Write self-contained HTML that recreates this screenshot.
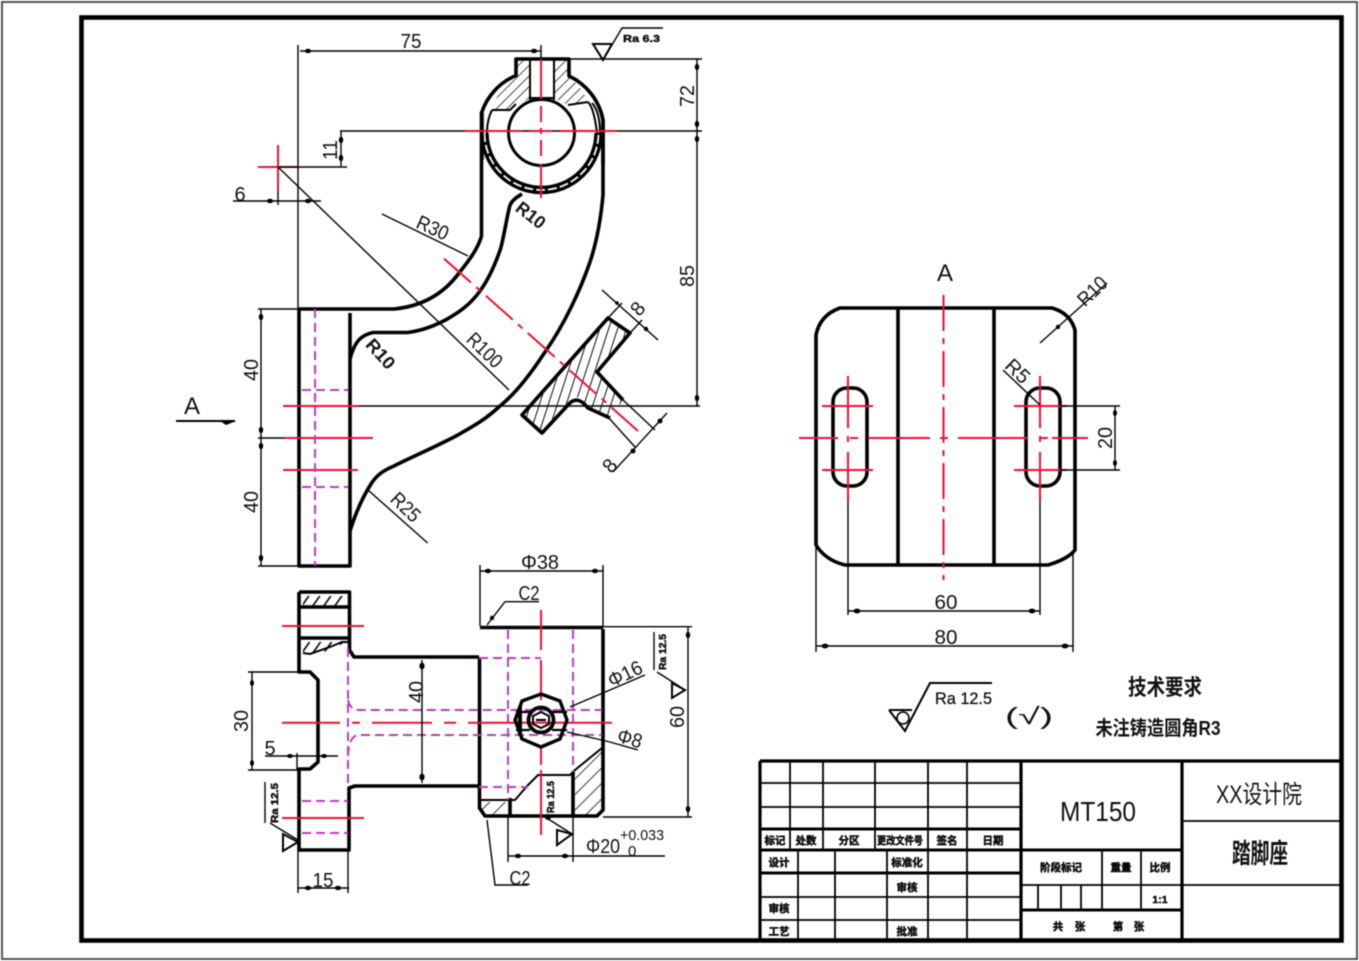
<!DOCTYPE html>
<html><head><meta charset="utf-8"><title>踏脚座</title>
<style>
html,body{margin:0;padding:0;background:#fff}
svg{display:block;filter:blur(.5px)}
text{font-family:"Liberation Sans","Noto Sans CJK SC",sans-serif;fill:#111}
.k{fill:none;stroke:#000;stroke-width:3.6;stroke-linejoin:round}
.t{fill:none;stroke:#000;stroke-width:1.4}
.m{fill:none;stroke:#000;stroke-width:2}
.r{fill:none;stroke:#f01030;stroke-width:2}
.rd{fill:none;stroke:#f01030;stroke-width:2;stroke-dasharray:36 7 6 7}
.p{fill:none;stroke:#b83cc0;stroke-width:2;stroke-dasharray:9 5}
.d{font-size:20px;text-anchor:middle}
.s{font-size:10.5px;font-weight:bold;text-anchor:middle;stroke:#000;stroke-width:.45}
.b{fill:#000;stroke:none}
</style></head><body>
<svg width="1359" height="961" viewBox="0 0 1359 961" xmlns="http://www.w3.org/2000/svg">
<defs>
<pattern id="h" width="7.500" height="7.500" patternUnits="userSpaceOnUse" patternTransform="rotate(-45)"><line x1="0" y1="0" x2="7.500" y2="0" stroke="#000" stroke-width="1.400"/></pattern>
<pattern id="h2" width="8.500" height="8.500" patternUnits="userSpaceOnUse" patternTransform="rotate(-72)"><line x1="0" y1="0" x2="8.500" y2="0" stroke="#000" stroke-width="1.900"/></pattern>
<pattern id="h3" width="9" height="9" patternUnits="userSpaceOnUse" patternTransform="rotate(-55)"><line x1="0" y1="0" x2="9" y2="0" stroke="#000" stroke-width="3.200"/></pattern>
<pattern id="h4" width="11" height="11" patternUnits="userSpaceOnUse" patternTransform="rotate(-45)"><line x1="0" y1="0" x2="11" y2="0" stroke="#000" stroke-width="1.500"/></pattern>
</defs>
<rect width="1359" height="961" fill="#fff"/>
<rect x="2" y="2" width="1355" height="957" fill="none" stroke="#555" stroke-width="2"/>
<rect x="81.500" y="17.500" width="1260" height="923" fill="none" stroke="#000" stroke-width="4.600"/>

<!-- MAIN VIEW -->
<path d="M492 110A61 61 0 0 1 516 76V59H530V98L510 110Z" fill="url(#h)"/>
<path d="M588 102A61 61 0 0 0 568 76V59H554V98L568 105Z" fill="url(#h)"/>
<path d="M608 318L630 333L597 372L623 400L610 418L588 408L577 397L568 405L542 433L522 415Z" fill="url(#h2)"/>
<path class="k" d="M623 400L597 372L630 333L608 318L522 415L542 433L568 405Q577 394 588 408L610 418"/>
<path class="k" d="M299 309H394C425 306 445 292 459 273C471 258 478 248 481.500 236V113A61 61 0 0 1 516 75.500V59H569V76A61 61 0 0 1 603 120V195C601 217 597 241 590 262C580 291 564 325 545 352C530 375 515 394 500 406C485 420 472 427 456 436C435 447 412 457 394 466C382 471 376 476 371 484C362 498 355 515 350 531"/>
<path class="k" d="M299 309V566H350V313M350 566V531M350 359V313"/>
<path class="k" d="M522 194C515 198 510 202 509 209C506 222 504 236 500.600 248.600C495 265 488 280 480 291C470 305 458 313 445.500 320C432 327 420 331 407.600 332.500H373C362 335 355 340 350 359"/>
<!-- ring -->
<path d="M484.500 133A57 57 0 0 0 598.500 133" fill="none" stroke="#000" stroke-width="8.500"/>
<path d="M484.500 133A57 57 0 0 0 598.500 133" fill="none" stroke="#fff" stroke-width="1.800" stroke-dasharray="9 3"/>
<path class="m" d="M492 110H510L516 104M568 105L588 102M487 133Q487 120 492 110M588 102Q594 108 597 133M592 103Q600 112 600 133"/>
<path class="k" d="M482 113V160M603 120V165" stroke-width="5"/>
<path class="m" d="M530 59V100M554 59V100M530 98H554"/>
<circle cx="541.500" cy="132.500" r="33" fill="#fff" stroke="#000" stroke-width="3"/>

<!-- main centre lines -->
<path class="t" d="M340 131H702M568 59H702M299 406H700M298 45V309M541 45V59"/>
<path class="r" d="M465 131H522M530 131H552M560 131H617M538 131H544M541 128V134M541 59V99M541 106V122M541 140V156M541 164V198"/>
<path class="rd" d="M444 258.600L638 431" stroke-dasharray="44 7 6 7"/>
<path class="r" d="M258 167H298M278 145V190"/>
<path class="t" d="M278 167H347M278 167L509 390M233 201H321M278 190V205"/>
<path class="t" d="M341 131V166"/>
<path class="t" d="M382 214L468 256M368 490L427.600 543M300 51H541M697 59V406M258 309H299M258 566H299M258 438H300M261 309V566"/>
<path class="r" d="M283 406H358M285 438H373M283 470H358"/>
<path class="p" d="M315 309V566"/>
<path class="p" d="M302 390H348M302 487H348" stroke-dasharray="10 5"/>
<!-- section dims -->
<path class="t" d="M602 290L658 340M608 318L622 303M630 333L642 320M667 413L613 472M623 400L655 430M608 417L635 447"/>
<!-- arrow blobs -->
<g class="b">
<ellipse cx="308" cy="51" rx="3.200" ry="2.200"/><ellipse cx="534" cy="51" rx="3.200" ry="2.200"/>
<ellipse cx="697" cy="67" rx="2.200" ry="3.200"/><ellipse cx="697" cy="124" rx="2.200" ry="3.200"/>
<ellipse cx="697" cy="139" rx="2.200" ry="3.200"/><ellipse cx="697" cy="398" rx="2.200" ry="3.200"/>
<ellipse cx="341" cy="140" rx="2.200" ry="3.200"/><ellipse cx="341" cy="158" rx="2.200" ry="3.200"/>
<ellipse cx="270" cy="201" rx="3.200" ry="2.200"/><ellipse cx="308" cy="201" rx="3.200" ry="2.200"/>
<ellipse cx="261" cy="317" rx="2.200" ry="3.200"/><ellipse cx="261" cy="430" rx="2.200" ry="3.200"/>
<ellipse cx="261" cy="446" rx="2.200" ry="3.200"/><ellipse cx="261" cy="558" rx="2.200" ry="3.200"/>
<circle cx="660" cy="421" r="2.500"/><circle cx="633" cy="451" r="2.500"/>
<circle cx="617" cy="303" r="1.800"/><circle cx="646" cy="329" r="2.200"/>
</g>
<!-- main labels -->
<text class="d" x="411" y="48" textLength="21" lengthAdjust="spacingAndGlyphs">75</text>
<text class="d" transform="translate(694,96) rotate(-90)" textLength="22" lengthAdjust="spacingAndGlyphs">72</text>
<text class="d" transform="translate(694,276) rotate(-90)" textLength="22" lengthAdjust="spacingAndGlyphs">85</text>
<text class="d" transform="translate(337,150) rotate(-90)" textLength="20" lengthAdjust="spacingAndGlyphs">11</text>
<text class="d" x="240" y="201" font-size="20">6</text>
<text class="d" transform="translate(258,370) rotate(-90)" textLength="22" lengthAdjust="spacingAndGlyphs">40</text>
<text class="d" transform="translate(258,502) rotate(-90)" textLength="22" lengthAdjust="spacingAndGlyphs">40</text>
<text class="d" x="192" y="414" style="font-size:24px">A</text>
<path class="m" d="M176 421H235"/><path class="b" d="M220 421H236L226 425Z"/>
<text class="d" transform="translate(430,234) rotate(24)" textLength="33" lengthAdjust="spacingAndGlyphs">R30</text>
<text class="d" transform="translate(527,220) rotate(38)" style="font-size:18px;font-weight:bold" textLength="32" lengthAdjust="spacingAndGlyphs">R10</text>
<text class="d" transform="translate(376,358) rotate(48)" style="font-size:18px;font-weight:bold" textLength="34" lengthAdjust="spacingAndGlyphs">R10</text>
<text class="d" transform="translate(480,355) rotate(44)" textLength="41" lengthAdjust="spacingAndGlyphs">R100</text>
<text class="d" transform="translate(401,512) rotate(44)" textLength="33" lengthAdjust="spacingAndGlyphs">R25</text>
<text class="d" transform="translate(643,313) rotate(-50)">8</text>
<text class="d" transform="translate(615,470) rotate(-50)">8</text>
<!-- Ra top -->
<path class="m" d="M593 44H612L603 60Z"/>
<path class="t" d="M606 55L622 28H663"/>
<text x="623" y="42" style="font-size:10.500px;font-weight:bold;stroke:#000;stroke-width:.4" textLength="37" lengthAdjust="spacingAndGlyphs">Ra 6.3</text>

<!-- BOTTOM VIEW -->
<rect x="303" y="596" width="43" height="10" fill="url(#h3)"/>
<path d="M303 642H346L328 651L310 654H303Z" fill="url(#h3)"/>
<path class="m" d="M303 653L310 654L330 647L342 642H349"/>
<path class="k" d="M299 592H349.500V650L354 657H479M299 592V672H310L318 680V762L310 769H299V850H349V788L355 786H479M299 607H349M299 638H349" stroke-width="4"/>
<path class="k" d="M479.500 657V808L485 816H597L603 810V629"/>
<path class="k" d="M480 627.500H603" stroke-width="6"/>
<path d="M483 802H507V817H490L482 810Z" fill="url(#h4)"/>
<path d="M575 770L602 748V812L596 817H575Z" fill="url(#h4)"/>
<path class="m" d="M481 800H515L528 785L538 775H570L575 770L602 748"/>
<path class="k" d="M510 798V817M573 772V817" stroke-width="3.400"/>
<path class="p" d="M348 648V787"/>
<path class="p" d="M348 700Q350 710 359 710H602M348 756Q349 735 359 735H602"/>
<path class="p" d="M302 801H348M302 833H348"/>
<path class="p" d="M479 658H541M479 787H528M508 630V800M573 630V772"/>
<path class="r" d="M282 626H364M282 818H364M282 722.700H340M352 722.700H360M372 722.700H432M444 722.700H456M468 722.700H612M541 610V650M541 660V700M541 745V765M541 770V835"/>
<g fill="none" stroke="#000">
<polygon points="541,694 560,701 567,720 560,739 541,747 522,739 515,720 522,701" stroke-width="3.400"/>
<circle cx="541" cy="720" r="12.500" stroke-width="3.800"/>
<polygon points="541,712 549,716 549,724 541,728 533,724 533,716" stroke-width="2"/>
<path d="M516 712H530M516 730H530M552 712H567M552 730H567M536 720H546" stroke-width="2.200"/>
<path d="M520 706V735" stroke-width="4"/>
</g>
<path class="t" d="M480 565V626M603 565V626M480 571H603M505 601.700L487 625M505 601.700H539M487 820L495 885H528"/>
<path class="t" d="M603 626.700H692M603 817H692M688 627V817M422 660V783M248 672H300M248 770H300M252 672V770M265 756H338M297 753V770M298 850V893M348 850V893M298 888H349M508 817V862M573 817V862M508 856H665"/>
<path class="t" d="M570 707L645 675M567 732L610 742L638 750"/>
<path class="t" d="M657 672L685 690M654 632V670"/>
<path class="m" d="M672 683L685 690L672 698Z"/>
<path class="t" d="M270 823L298 840M265 782V823"/>
<path class="m" d="M283 834L298 842L283 851Z"/>
<path class="t" d="M545 817L572 834"/>
<path class="m" d="M557 830L572 834L557 845Z"/>
<g class="b">
<ellipse cx="488" cy="571" rx="3.200" ry="2.200"/><ellipse cx="595" cy="571" rx="3.200" ry="2.200"/>
<ellipse cx="688" cy="635" rx="2.200" ry="3.200"/><ellipse cx="688" cy="809" rx="2.200" ry="3.200"/>
<ellipse cx="422" cy="666" rx="2.600" ry="3.400"/><ellipse cx="422" cy="777" rx="2.600" ry="3.400"/>
<ellipse cx="252" cy="683" rx="2" ry="3"/><ellipse cx="252" cy="763" rx="2" ry="3"/>
<ellipse cx="290" cy="756" rx="3" ry="2"/><ellipse cx="324" cy="756" rx="3" ry="2"/>
<ellipse cx="308" cy="888" rx="3.200" ry="2.200"/><ellipse cx="338" cy="888" rx="3.200" ry="2.200"/>
<ellipse cx="518" cy="856" rx="3.200" ry="2.200"/><ellipse cx="565" cy="856" rx="3.200" ry="2.200"/>
<circle cx="548" cy="817" r="3"/><circle cx="492" cy="618" r="2.200"/>
</g>
<text class="d" x="540" y="569" textLength="38" lengthAdjust="spacingAndGlyphs">Φ38</text>
<text class="d" x="529" y="600" textLength="21" lengthAdjust="spacingAndGlyphs">C2</text>
<text class="d" x="520" y="885" textLength="21" lengthAdjust="spacingAndGlyphs">C2</text>
<text class="d" transform="translate(423,692) rotate(-90)" textLength="22" lengthAdjust="spacingAndGlyphs">40</text>
<text class="d" transform="translate(248,721) rotate(-90)" textLength="22" lengthAdjust="spacingAndGlyphs">30</text>
<text class="d" x="270" y="755">5</text>
<text class="d" x="323" y="887" textLength="21" lengthAdjust="spacingAndGlyphs">15</text>
<text class="d" transform="translate(684,717) rotate(-90)" textLength="22" lengthAdjust="spacingAndGlyphs">60</text>
<text class="d" transform="translate(628,680) rotate(-26)" textLength="36" lengthAdjust="spacingAndGlyphs">Φ16</text>
<text class="d" transform="translate(628,745) rotate(16)" textLength="25" lengthAdjust="spacingAndGlyphs">Φ8</text>
<text class="d" x="603" y="853" textLength="34" lengthAdjust="spacingAndGlyphs">Φ20</text>
<text x="620" y="840" style="font-size:15px" textLength="44" lengthAdjust="spacingAndGlyphs">+0.033</text>
<text x="628" y="856" style="font-size:15px">0</text>
<text class="s" transform="translate(666,652) rotate(-90)" textLength="36" lengthAdjust="spacingAndGlyphs">Ra 12.5</text>
<text class="s" transform="translate(278,803) rotate(-90)" textLength="40" lengthAdjust="spacingAndGlyphs">Ra 12.5</text>
<text class="s" transform="translate(554,797) rotate(-90)" textLength="32" lengthAdjust="spacingAndGlyphs">Ra 12.5</text>

<!-- RIGHT VIEW -->
<path class="k" d="M840 308H1052Q1070 313 1075 330V550Q1068 559 1048 565H845Q825 560 816 545V335Q820 315 840 308Z" stroke-width="3.300"/>
<path class="k" d="M898 308V565M994 308V565" stroke-width="4"/>
<rect x="833" y="388" width="34" height="98" rx="14" ry="14" class="k"/>
<rect x="1026" y="388" width="34" height="98" rx="14" ry="14" class="k"/>
<path class="rd" d="M943.500 295V580" stroke-dasharray="46 8 6 8"/>
<path class="r" d="M799 438H838M850 438H858M868 438H930M940 438H948M958 438H1028M1040 438H1048M1052 438H1088"/>
<path class="r" d="M822 406H873M822 470H873M1014 406H1067M1014 470H1067"/>
<path class="r" d="M848 376V428M848 436V442M848 452V500M1040 376V428M1040 436V442M1040 452V500"/>
<path class="t" d="M848 500V615M1040 500V615M848 611H1040M816 545V652M1073 550V652M816 646H1073M1060 406H1120M1060 470H1120M1115 406V470M1040 343L1107 283M1003 370L1040 405"/>
<g class="b">
<ellipse cx="857" cy="611" rx="3.400" ry="2.400"/><ellipse cx="1032" cy="611" rx="3.400" ry="2.400"/>
<ellipse cx="825" cy="646" rx="3.400" ry="2.400"/><ellipse cx="1065" cy="646" rx="3.400" ry="2.400"/>
<ellipse cx="1115" cy="413" rx="2" ry="3"/><ellipse cx="1115" cy="463" rx="2" ry="3"/>
<circle cx="1058" cy="327" r="2.200"/>
</g>
<text class="d" x="945" y="281" style="font-size:24px">A</text>
<text class="d" x="946" y="609" textLength="23" lengthAdjust="spacingAndGlyphs">60</text>
<text class="d" x="946" y="644" textLength="23" lengthAdjust="spacingAndGlyphs">80</text>
<text class="d" transform="translate(1112,438) rotate(-90)" textLength="22" lengthAdjust="spacingAndGlyphs">20</text>
<text class="d" transform="translate(1097,296) rotate(-44)" textLength="33" lengthAdjust="spacingAndGlyphs">R10</text>
<text class="d" transform="translate(1013,376) rotate(44)" textLength="26" lengthAdjust="spacingAndGlyphs">R5</text>

<!-- finish symbol -->
<path class="m" d="M889 710L905 731L930 683H992M889 710H912"/>
<circle cx="903" cy="718" r="6" fill="none" stroke="#000" stroke-width="1.600"/>
<text x="935" y="704" style="font-size:17px;stroke:#111;stroke-width:.3" textLength="57" lengthAdjust="spacingAndGlyphs">Ra 12.5</text>
<text x="1005" y="724" style="font-size:23px" textLength="48" lengthAdjust="spacingAndGlyphs">(√)</text>
<text x="1165" y="695" text-anchor="middle" style="font-size:22px;font-weight:bold" textLength="74" lengthAdjust="spacingAndGlyphs">技术要求</text>
<text x="1158" y="735" text-anchor="middle" style="font-size:20px;font-weight:bold" textLength="125" lengthAdjust="spacingAndGlyphs">未注铸造圆角R3</text>

<!-- TITLE BLOCK -->
<path d="M760 761H1342M1021 761V941M1182 761V941M760 761V941" fill="none" stroke="#000" stroke-width="3.200"/>
<path d="M760 829H1021M760 850H1182M760 873H1021M1021 910H1182" fill="none" stroke="#000" stroke-width="3"/>
<path d="M760 783H1021M760 807H1021M760 897H1021M760 920H1021M1021 885H1342M1182 821H1342" fill="none" stroke="#000" stroke-width="1.800"/>
<path d="M790 761V850M823 761V850M875 761V850M928 761V941M967 761V941M798 850V941M835 850V941M887 850V941M1102 850V910M1141 850V910M1038 885V910M1061 885V910M1081 885V910" fill="none" stroke="#000" stroke-width="1.800"/>
<text x="1098" y="821" text-anchor="middle" style="font-size:28px" textLength="76" lengthAdjust="spacingAndGlyphs">MT150</text>
<text x="1259" y="803" text-anchor="middle" style="font-size:25px" textLength="86" lengthAdjust="spacingAndGlyphs">XX设计院</text>
<text x="1260" y="863" text-anchor="middle" style="font-size:27px;font-weight:bold" textLength="56" lengthAdjust="spacingAndGlyphs">踏脚座</text>
<text x="775" y="844" class="s">标记</text>
<text x="806" y="844" class="s">处数</text>
<text x="849" y="844" class="s">分区</text>
<text x="900" y="844" class="s" textLength="46" lengthAdjust="spacingAndGlyphs">更改文件号</text>
<text x="947" y="844" class="s">签名</text>
<text x="993" y="844" class="s">日期</text>
<text x="779" y="866" class="s">设计</text>
<text x="907" y="866" class="s">标准化</text>
<text x="907" y="891" class="s">审核</text>
<text x="779" y="912" class="s">审核</text>
<text x="779" y="935" class="s">工艺</text>
<text x="907" y="935" class="s">批准</text>
<text x="1061" y="871" class="s">阶段标记</text>
<text x="1121" y="871" class="s">重量</text>
<text x="1160" y="871" class="s">比例</text>
<text x="1160" y="903" class="s">1:1</text>
<text x="1058" y="930" class="s">共</text>
<text x="1080" y="930" class="s">张</text>
<text x="1118" y="930" class="s">第</text>
<text x="1139" y="930" class="s">张</text>
</svg>
</body></html>
